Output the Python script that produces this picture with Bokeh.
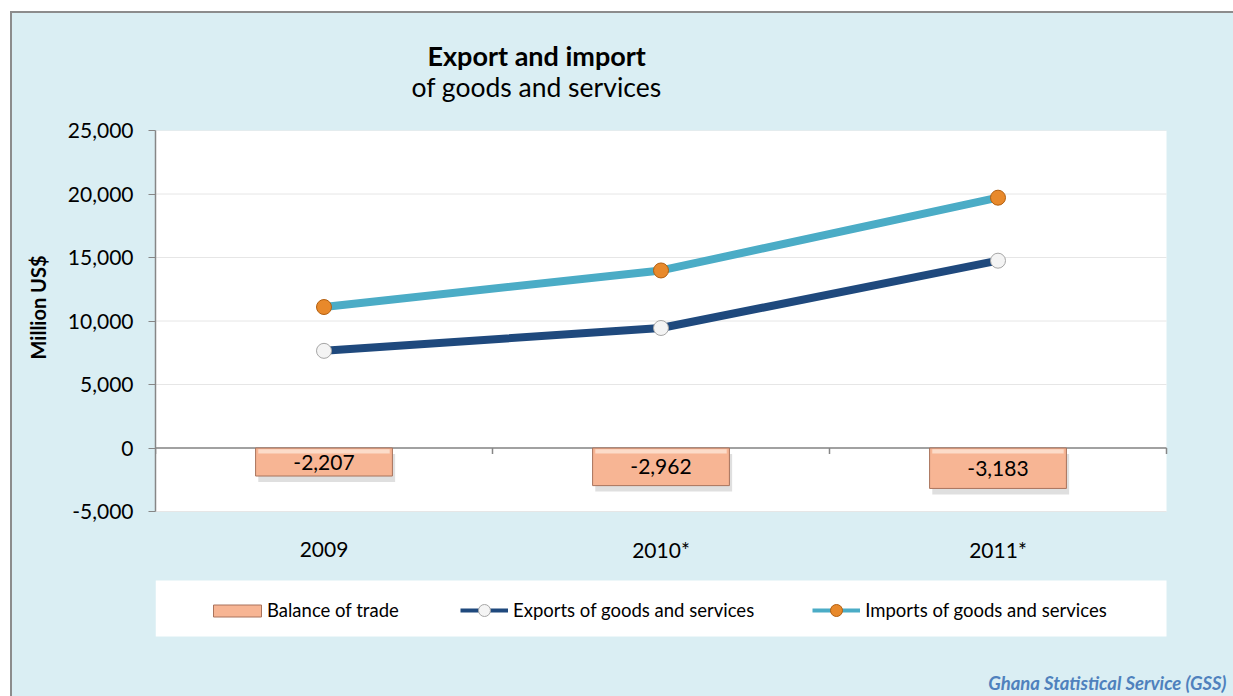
from bokeh.plotting import figure
from bokeh.models import (Range1d, FixedTicker, NumeralTickFormatter, Legend, LegendItem, Title,
                          Label, ColumnDataSource, BoxAnnotation)
from bokeh.transform import dodge
from bokeh.embed import file_html
from bokeh.resources import INLINE
from bokeh.core.properties import value

# ---- data ----
years = ["2009", "2010*", "2011*"]
exports = [7650, 9450, 14750]
imports = [11100, 13980, 19710]
balance = [-2207, -2962, -3183]
y_ticks = [-5000, 0, 5000, 10000, 15000, 20000, 25000]

series_names = ["Balance of trade", "Exports of goods and services", "Imports of goods and services"]

BG = "#DAEEF3"
FONT = "Lato"
EXP_COLOR = "#1F497D"
IMP_COLOR = "#4BACC6"
AXIS_GRAY = "#868686"

# ---- geometry (pixels) ----
W, H = 1221, 683                 # figure size
LEFT, TOP = 143, 117             # space for y axis / titles
PLOT_W, PLOT_H = 1011, 381       # white plotting area
FRAME_W, FRAME_H = W - LEFT, H - TOP
YMIN, YMAX = y_ticks[0], y_ticks[-1]
PX = (YMAX - YMIN) / PLOT_H      # data units per pixel (vertical)
NCAT = len(years)
X_END = NCAT * FRAME_W / PLOT_W
Y_START = YMAX - FRAME_H * PX

xpos = [i + 0.5 for i in range(NCAT)]
src = ColumnDataSource(dict(
    x=xpos,
    exports=exports,
    imports=imports,
    balance=balance,
    zero=[0] * NCAT,
    label=[f"{v:,}" for v in balance],
    label_y=[v / 2 for v in balance],
    year=years,
    year_y=[YMIN - 38 * PX] * NCAT,
))

p = figure(width=W, height=H,
           x_range=Range1d(0, X_END), y_range=Range1d(Y_START, YMAX),
           output_backend="svg", toolbar_location=None, x_axis_location=None,
           min_border_left=LEFT, min_border_right=0, min_border_top=TOP, min_border_bottom=0)
p.margin = (13, 0, 0, 12)
p.styles = {"box-shadow": "0 0 0 2px #8C8C8C", "background-color": BG}
p.border_fill_color = BG
p.background_fill_color = BG
p.outline_line_color = None
p.grid.visible = False

# white plotting area
p.add_layout(BoxAnnotation(left=0, right=NCAT, bottom=YMIN, top=YMAX, fill_color="white",
                           fill_alpha=1, line_color=None, level="image"))

# horizontal gridlines across the plotting area
gsrc = ColumnDataSource(dict(y=y_ticks, x0=[0] * len(y_ticks), x1=[NCAT] * len(y_ticks)))
p.segment(x0="x0", y0="y", x1="x1", y1="y", source=gsrc, line_color="#E6E6E6", line_width=1)

# y axis
ya = p.yaxis[0]
ya.bounds = (YMIN, YMAX)
ya.ticker = FixedTicker(ticks=y_ticks)
ya.formatter = NumeralTickFormatter(format="0,0")
ya.major_label_text_font = FONT
ya.major_label_text_font_size = "21px"
ya.major_label_text_color = "black"
ya.axis_line_color = AXIS_GRAY
ya.axis_line_width = 1.5
ya.major_tick_line_color = AXIS_GRAY
ya.major_tick_out = 7
ya.major_tick_in = 0
ya.minor_tick_line_color = None
ya.major_label_standoff = 15

# y axis title, placed beside the plotting area
p.add_layout(Title(text="Million US$", align="right", offset=125, vertical_align="top",
                   standoff=26, text_font=FONT, text_font_style="bold",
                   text_font_size="20px", text_color="black"), "left")

# zero line with category boundary ticks
bnd = list(range(NCAT + 1))
bsrc = ColumnDataSource(dict(bx=bnd, by=[0] * len(bnd), by1=[-6 * PX] * len(bnd)))
p.segment(x0="bx", y0="by", x1="bx", y1="by1", source=bsrc, line_color=AXIS_GRAY, line_width=1.5)
p.segment(x0=[0], y0=[0], x1=[NCAT], y1=[0], line_color=AXIS_GRAY, line_width=1.5)

# category labels
p.text(x="x", y="year_y", text="year", source=src, text_align="center", text_baseline="middle",
       text_font=value(FONT), text_font_size="21px", text_color="black")

# bars (balance of trade): shadow, body, bevel highlight
p.vbar(x=dodge("x", 0.008, range=p.x_range), top=dodge("zero", -6 * PX, range=p.y_range),
       bottom=dodge("balance", -6 * PX, range=p.y_range), width=0.406, source=src,
       fill_color="#7F7F7F", fill_alpha=0.25, line_color=None)
bars = p.vbar(x="x", top="zero", bottom="balance", width=0.406, source=src,
              fill_color="#F7B594", line_color="#A9735C", line_width=1)
p.vbar(x="x", top=dodge("zero", -1.2 * PX, range=p.y_range),
       bottom=dodge("zero", -5.5 * PX, range=p.y_range),
       width=0.39, source=src, fill_color="#FDE3D2", fill_alpha=0.85, line_color=None)
p.text(x="x", y="label_y", text="label", source=src, text_align="center",
       text_baseline="middle", text_font=value(FONT), text_font_size="21px", text_color="black")

# lines
p.line(x="x", y="imports", source=src, line_width=8, line_color=IMP_COLOR)
p.scatter(x="x", y="imports", source=src, size=15, fill_color="#E8892B", line_color="#B35F0F")
p.line(x="x", y="exports", source=src, line_width=8, line_color=EXP_COLOR)
p.scatter(x="x", y="exports", source=src, size=15, fill_color="#F4F4F4", line_color="#A6A6A6")

# legend proxies (not drawn on the plot: NaN data)
nan = float("nan")
le = p.line(x=[nan, nan], y=[nan, nan], line_width=4, line_color=EXP_COLOR)
lem = p.scatter(x=[nan], y=[nan], size=12, fill_color="#F4F4F4", line_color="#A6A6A6")
li = p.line(x=[nan, nan], y=[nan, nan], line_width=4, line_color=IMP_COLOR)
lim = p.scatter(x=[nan], y=[nan], size=12, fill_color="#E8892B", line_color="#B35F0F")

# white legend box
p.add_layout(BoxAnnotation(left=0, right=NCAT, bottom=60, top=116,
                           bottom_units="screen", top_units="screen",
                           fill_color="white", fill_alpha=1, line_color=None, level="underlay"))

legend_style = dict(orientation="horizontal", background_fill_alpha=0, border_line_color=None,
                    label_text_font=FONT, label_text_font_size="18.5px",
                    label_text_color="black", padding=0, margin=0)
legend_bar = Legend(items=[LegendItem(label=series_names[0], renderers=[bars])],
                    location=(52, 75), glyph_width=60, glyph_height=15, label_standoff=0,
                    **legend_style)
legend_lines = Legend(items=[LegendItem(label=series_names[1], renderers=[le, lem]),
                             LegendItem(label=series_names[2], renderers=[li, lim])],
                      location=(305, 71), glyph_width=48, glyph_height=30, label_standoff=5,
                      spacing=58, **legend_style)
p.add_layout(legend_bar)
p.add_layout(legend_lines)

# footer
p.add_layout(Label(x=FRAME_W - 7, y=14, x_units="screen", y_units="screen",
                   text="Ghana Statistical Service (GSS)", text_align="right",
                   text_baseline="middle", text_font=FONT, text_font_style="bold italic",
                   text_font_size="18.5px", text_color="#4F81BD"))

# titles (first added sits nearest the plot)
p.add_layout(Title(text="of goods and services", align="left", offset=256, standoff=55,
                   text_font=FONT, text_font_style="normal", text_font_size="26.5px",
                   text_color="black"), "above")
p.add_layout(Title(text="Export and import", align="left", offset=272, standoff=-60,
                   text_font=FONT, text_font_style="bold", text_font_size="27px",
                   text_color="black"), "above")

open("out.html", "w").write(file_html(p, INLINE))
